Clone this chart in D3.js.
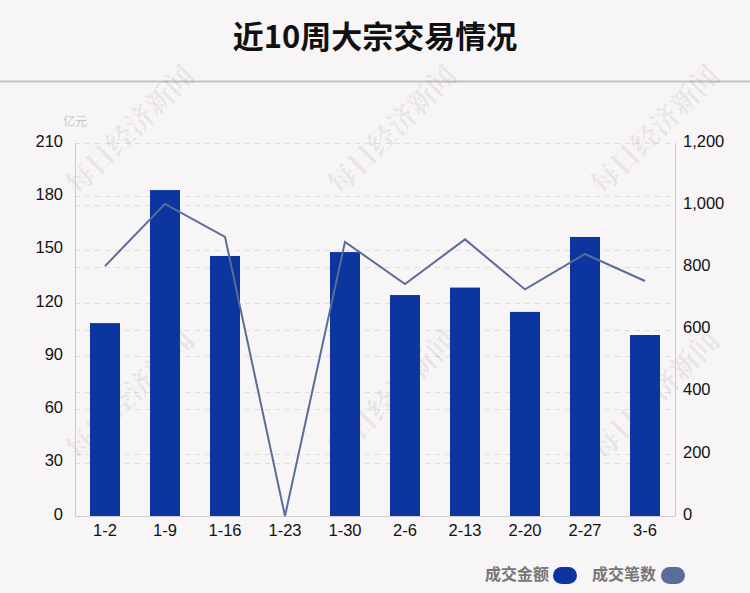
<!DOCTYPE html>
<html><head><meta charset="utf-8">
<script src="https://cdn.jsdelivr.net/npm/d3@7"></script>
<style>
html,body{margin:0;padding:0;background:#f8f5f6;}
svg{display:block;font-family:"Liberation Sans",Arial,sans-serif;}
</style></head><body>
<svg id="c" width="750" height="593"></svg>
<script>
const categories = ["1-2","1-9","1-16","1-23","1-30","2-6","2-13","2-20","2-27","3-6"];
const amountValues = [108.6,183.5,146.4,0,148.6,124.4,128.6,114.9,157.1,101.9];
const countValues = [804,1004,898,0,882,746,890,729,843,756];
const leftTicks = [0,30,60,90,120,150,180,210];
const rightTicks = [0,200,400,600,800,1000,1200];
const seriesNames = ["成交金额","成交笔数"];
const title = "近10周大宗交易情况";
const unitLabel = "亿元";
const watermark = "每日经济新闻";

const svg = d3.select("#c");
const W=750,H=593;
const m={l:75,r:675,t:143,b:516};
const barColor="#0d35a0", lineColor="#5a6d98";

svg.append("rect").attr("width",W).attr("height",H).attr("fill","#f8f5f6");

// title
svg.append("text").attr("x",375).attr("y",48).attr("text-anchor","middle")
  .attr("font-family","'Noto Sans CJK SC',sans-serif").attr("font-weight","bold")
  .attr("font-size",31).attr("fill","#111").text(title);
svg.append("line").attr("x1",0).attr("x2",W).attr("y1",81.5).attr("y2",81.5)
  .attr("stroke","#c4c2c3").attr("stroke-width",2);

const x = d3.scaleBand().domain(categories).range([m.l,m.r]).paddingInner(0.5).paddingOuter(0.25);
const yL = d3.scaleLinear().domain([0,210]).range([m.b,m.t]);
const yR = d3.scaleLinear().domain([0,1200]).range([m.b,m.t]);

// grid lines
const g = svg.append("g");
g.selectAll(".gl").data(leftTicks.filter(d=>d>0)).join("line")
  .attr("x1",m.l).attr("x2",m.r).attr("y1",d=>Math.round(yL(d))+0.5).attr("y2",d=>Math.round(yL(d))+0.5)
  .attr("stroke","#e0dcdd").attr("stroke-dasharray","5,5");
g.selectAll(".gr").data(rightTicks.filter(d=>d>0&&d<1200)).join("line")
  .attr("x1",m.l).attr("x2",m.r).attr("y1",d=>Math.round(yR(d))+0.5).attr("y2",d=>Math.round(yR(d))+0.5)
  .attr("stroke","#e0dcdd").attr("stroke-dasharray","5,5");

// watermarks
const wm = [[130,130],[392,130],[655,130],[130,395],[392,395],[655,395]];
svg.append("g").selectAll("text").data(wm).join("text")
  .attr("transform",d=>`translate(${d[0]},${d[1]}) rotate(-45)`)
  .attr("text-anchor","middle").attr("dy","0.35em")
  .attr("font-family","'Noto Serif CJK SC','Noto Sans CJK SC',serif").attr("font-weight","bold")
  .attr("font-size",28).attr("fill","#000").attr("fill-opacity",0.08).text(watermark);

// axes lines
svg.append("line").attr("x1",m.l+0.5).attr("x2",m.l+0.5).attr("y1",m.t).attr("y2",m.b).attr("stroke","#cfcbcc");
svg.append("line").attr("x1",m.r+0.5).attr("x2",m.r+0.5).attr("y1",m.t).attr("y2",m.b).attr("stroke","#cfcbcc");
svg.append("line").attr("x1",m.l).attr("x2",m.r).attr("y1",m.b+0.5).attr("y2",m.b+0.5).attr("stroke","#cfcbcc");

// bars
svg.append("g").selectAll("rect").data(amountValues).join("rect")
  .attr("x",(d,i)=>x(categories[i])).attr("width",x.bandwidth())
  .attr("y",d=>yL(d)).attr("height",d=>m.b-yL(d)).attr("fill",barColor);

// line
const line = d3.line().x((d,i)=>x(categories[i])+x.bandwidth()/2).y(d=>yR(d));
svg.append("path").datum(countValues).attr("d",line).attr("fill","none")
  .attr("stroke",lineColor).attr("stroke-width",2);

// left axis labels
const axL = d3.axisLeft(yL).tickValues(leftTicks).tickSize(0).tickPadding(12);
const gL = svg.append("g").attr("transform",`translate(${m.l},-2)`).call(axL);
gL.select(".domain").remove();
gL.selectAll("text").attr("font-size",16.5).attr("fill","#111").attr("font-family","'Liberation Sans',Arial,sans-serif");

const axR = d3.axisRight(yR).tickValues(rightTicks).tickSize(0).tickPadding(8).tickFormat(d3.format(","));
const gR = svg.append("g").attr("transform",`translate(${m.r},-2)`).call(axR);
gR.select(".domain").remove();
gR.selectAll("text").attr("font-size",16.5).attr("fill","#111").attr("font-family","'Liberation Sans',Arial,sans-serif");

const axB = d3.axisBottom(x).tickSize(0).tickPadding(8);
const gB = svg.append("g").attr("transform",`translate(0,${m.b})`).call(axB);
gB.select(".domain").remove();
gB.selectAll("text").attr("font-size",16.5).attr("fill","#111").attr("font-family","'Liberation Sans',Arial,sans-serif");

// unit label
svg.append("text").attr("x",63).attr("y",126).attr("font-size",12)
  .attr("font-family","'Noto Sans CJK SC',sans-serif").attr("fill","#c8c4c5").text(unitLabel);

// legend
const leg = [{name:seriesNames[0],c:barColor,tx:485,sx:553},{name:seriesNames[1],c:lineColor,tx:592,sx:661}];
const lg = svg.append("g");
leg.forEach(d=>{
  lg.append("text").attr("x",d.tx).attr("y",580).attr("font-size",16).attr("font-weight","bold")
    .attr("font-family","'Noto Sans CJK SC',sans-serif").attr("fill","#777").text(d.name);
  lg.append("rect").attr("x",d.sx).attr("y",567).attr("width",24).attr("height",17).attr("rx",8.5)
    .attr("fill",d.c);
});
</script></body></html>
